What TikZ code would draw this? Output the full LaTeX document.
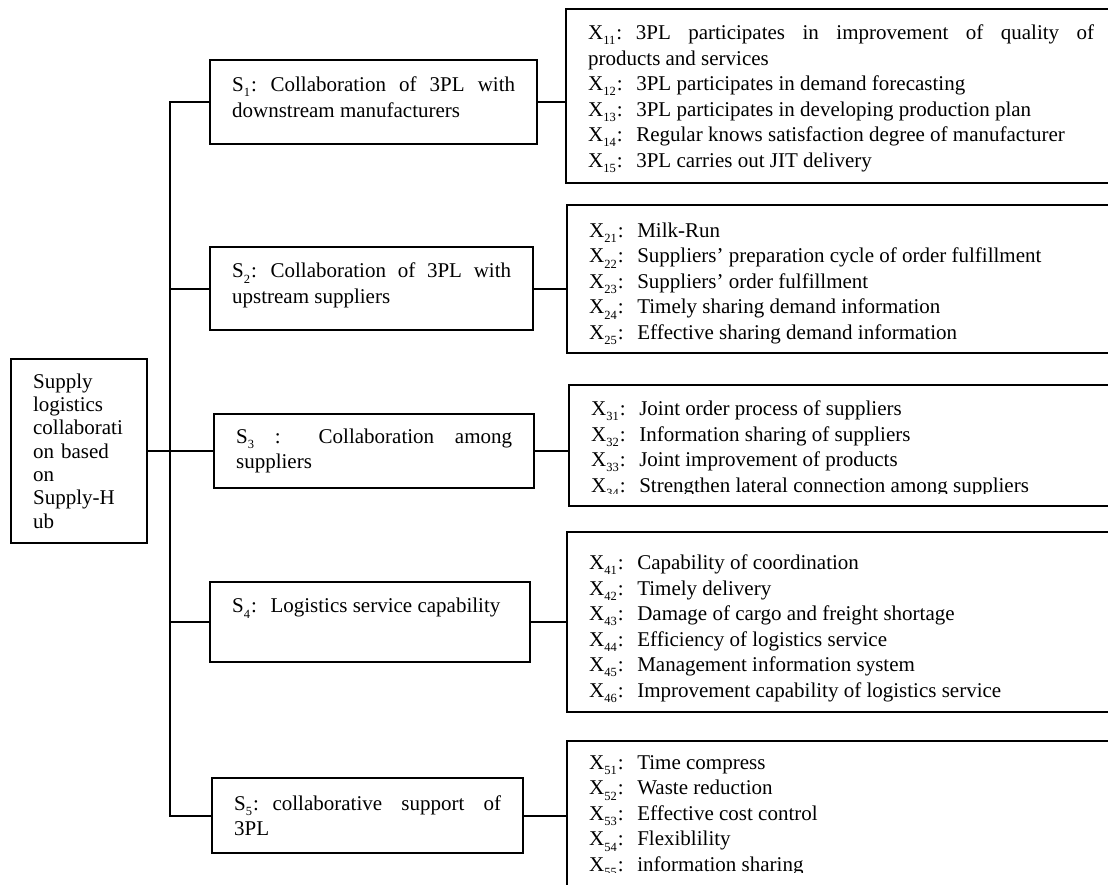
\documentclass[tikz,border=0pt]{standalone}
\usepackage{fontspec}
\setmainfont{Liberation Serif}
\newcommand{\lsub}[1]{\raisebox{-0.25em}{\fontsize{12.5}{12.5}\selectfont#1}}
\newcommand{\wcolon}{\hspace{0.05em}:\hspace{0.65em}}
\newcommand{\tophgt}[1]{\rule{0pt}{#1}}
\newcommand{\botdpt}[1]{\rule[-#1]{0pt}{1pt}}

\begin{document}
\begin{tikzpicture}[x=1pt,y=-1pt,
    every node/.style={font=\fontsize{21}{25.5}\selectfont},
    box/.style={draw,line width=2.2pt,inner xsep=22pt,inner ysep=0pt,anchor=north west,align=justify},
    sbox/.style={box,text width=#1},
    xbox/.style={box,text width=506pt,minimum width=550pt},
    line/.style={line width=2.2pt}]
  \useasboundingbox (0,0) rectangle (1108,884);

  \node[box,text width=92pt,minimum height=184pt,align=left,
        font=\fontsize{21}{23.3}\selectfont] (root) at (10,358)
    {Supply\\ logistics\\ collaborati\\ on based\\ on\\ Supply-H\\ ub};

  \node[sbox=283pt,minimum height=84pt] (s1) at (209,59)
    {S\lsub{1}\wcolon Collaboration of 3PL with\linebreak downstream manufacturers\botdpt{10pt}};
  \node[sbox=279pt,minimum height=83pt] (s2) at (209,246)
    {S\lsub{2}\wcolon Collaboration of 3PL with\linebreak upstream suppliers\botdpt{10.5pt}};
  \node[sbox=276pt,minimum height=74pt] (s3) at (213,413)
    {S\lsub{3} : Collaboration among\linebreak suppliers};
  \node[sbox=276pt,minimum height=80pt] (s4) at (209,581)
    {S\lsub{4}\wcolon Logistics service capability\\ \strut};
  \node[sbox=267pt,minimum height=75pt] (s5) at (211,777)
    {S\lsub{5}\wcolon collaborative support of\linebreak 3PL};

  \node[xbox,minimum height=174pt] (x1) at (565,8)
    {\tophgt{20pt}X\lsub{11}\wcolon 3PL participates in improvement of quality of\linebreak products and services\\
     X\lsub{12}\wcolon 3PL participates in demand forecasting\\
     X\lsub{13}\wcolon 3PL participates in developing production plan\\
     X\lsub{14}\wcolon Regular knows satisfaction degree of manufacturer\\
     X\lsub{15}\wcolon 3PL carries out JIT delivery};
  \node[xbox,minimum height=148pt] (x2) at (566,204)
    {\tophgt{24pt}X\lsub{21}\wcolon Milk-Run\\
     X\lsub{22}\wcolon Suppliers’ preparation cycle of order fulfillment\\
     X\lsub{23}\wcolon Suppliers’ order fulfillment\\
     X\lsub{24}\wcolon Timely sharing demand information\\
     X\lsub{25}\wcolon Effective sharing demand information};
  \node[xbox,minimum height=121pt] (x3) at (568,384)
    {\tophgt{22pt}X\lsub{31}\wcolon Joint order process of suppliers\\
     X\lsub{32}\wcolon Information sharing of suppliers\\
     X\lsub{33}\wcolon Joint improvement of products\\
     X\lsub{34}\wcolon Strengthen lateral connection among suppliers};
  \node[xbox,minimum height=180pt] (x4) at (566,531)
    {\tophgt{28pt}X\lsub{41}\wcolon Capability of coordination\\
     X\lsub{42}\wcolon Timely delivery\\
     X\lsub{43}\wcolon Damage of cargo and freight shortage\\
     X\lsub{44}\wcolon Efficiency of logistics service\\
     X\lsub{45}\wcolon Management information system\\
     X\lsub{46}\wcolon Improvement capability of logistics service};
  \node[xbox,minimum height=150pt] (x5) at (566,740)
    {X\lsub{51}\wcolon Time compress\\
     X\lsub{52}\wcolon Waste reduction\\
     X\lsub{53}\wcolon Effective cost control\\
     X\lsub{54}\wcolon Flexiblility\\
     X\lsub{55}\wcolon information sharing};

  \fill[white] (570,494) rectangle (1108,503);
  \fill[white] (569,873) rectangle (1108,884);

  \coordinate (trunk) at (170,0);
  \draw[line] (root.east) -- (s3.west);
  \draw[line] (s1.west) -- (s1.west -| trunk) -- (s5.west -| trunk) -- (s5.west);
  \foreach \n in {2,3,4}
    \draw[line] (s\n.west) -- (s\n.west -| trunk);
  \foreach \n in {1,...,5}
    \draw[line] (s\n.east) -- (s\n.east -| x\n.west);
\end{tikzpicture}
\end{document}
